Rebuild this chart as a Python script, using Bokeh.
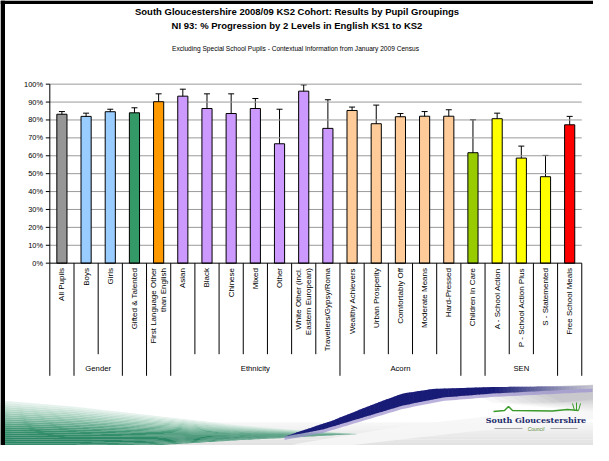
import math
import numpy as np
from bokeh.plotting import figure
from bokeh.models import ColumnDataSource, Range1d, Whisker, TeeHead
from bokeh.core.properties import value
from bokeh.embed import file_html
from bokeh.resources import INLINE

# ---------------- data ----------------
categories = ["All Pupils", "Boys", "Girls", "Gifted & Talented",
              "First Language Other\nthan English", "Asian", "Black", "Chinese",
              "Mixed", "Other", "White Other (incl.\nEastern European)",
              "Travellers/Gypsy/Roma", "Wealthy Achievers", "Urban Prosperity",
              "Comfortably Off", "Moderate Means", "Hard-Pressed", "Children In Care",
              "A - School Action", "P - School Action Plus", "S - Statemented",
              "Free School Meals"]
groups = ["", "Gender", "Gender", "", "", "Ethnicity", "Ethnicity", "Ethnicity",
          "Ethnicity", "Ethnicity", "Ethnicity", "Ethnicity", "Acorn", "Acorn",
          "Acorn", "Acorn", "Acorn", "", "SEN", "SEN", "SEN", ""]
values = [83.2, 82.0, 84.6, 84.0, 90.2, 93.3, 86.4, 83.6, 86.4, 66.7, 96.1, 75.3,
          85.3, 77.9, 81.8, 82.1, 82.1, 61.7, 80.7, 58.7, 48.3, 77.3]
upper = [84.7, 83.8, 86.0, 86.8, 94.6, 97.2, 94.6, 94.6, 92.0, 86.0, 99.6, 91.3,
         87.2, 88.3, 83.6, 84.7, 85.7, 80.1, 83.8, 65.4, 60.2, 82.0]
lower = [81.8, 80.1, 82.9, 80.1, 82.1, 84.4, 70.6, 60.6, 77.9, 39.9, 84.7, 46.4,
         83.1, 62.6, 79.6, 79.6, 78.4, 39.5, 77.3, 52.0, 36.3, 72.1]
colors = ["#969696", "#99CCFF", "#99CCFF", "#339966", "#FF9900", "#CC99FF", "#CC99FF",
          "#CC99FF", "#CC99FF", "#CC99FF", "#CC99FF", "#CC99FF", "#FFCC99", "#FFCC99",
          "#FFCC99", "#FFCC99", "#FFCC99", "#99CC00", "#FFFF00", "#FFFF00", "#FFFF00",
          "#FF0000"]
y_ticks = [0, 10, 20, 30, 40, 50, 60, 70, 80, 90, 100]
y_tick_labels = [f"{t}%" for t in y_ticks]

title1 = "South Gloucestershire 2008/09 KS2 Cohort: Results by Pupil Groupings"
title2 = "NI 93: % Progression by 2 Levels in English KS1 to KS2"
subtitle = "Excluding Special School Pupils - Contextual Information from January 2009 Census"

n = len(categories)
FONT = value("Liberation Sans")

# ---------------- figure ----------------
W, H = 593, 445
p = figure(width=W, height=H, output_backend="svg", toolbar_location=None,
           x_axis_location=None, y_axis_location=None,
           x_range=Range1d(-2.040, 22.485), y_range=Range1d(-101.86, 146.74),
           min_border=0)
p.outline_line_color = None
p.grid.visible = False
p.background_fill_color = "white"
# page-pixel coordinate system for layout / decoration
p.extra_x_ranges = {"px": Range1d(8, 601)}
p.extra_y_ranges = {"px": Range1d(453, 8)}
PX = dict(x_range_name="px", y_range_name="px")


def hexmix(c1, c2, f):
    r = [int(round(a + (b - a) * f)) for a, b in zip(c1, c2)]
    return "#%02x%02x%02x" % tuple(r)


# ---------------- decoration (bottom swoosh) ----------------
# soft grey backdrop bands
for k in range(12):
    f = k / 11
    y0 = 430 + 31 * f
    p.quad(left=[8], right=[601], top=[y0], bottom=[y0 + 3.0], fill_color=hexmix((246, 246, 246), (214, 214, 214), f),
           line_color=None, **PX)
# whiter highlight diagonal
p.patch([300, 420, 609, 609, 470, 330], [452, 432, 412, 426, 440, 456], fill_color="#f6f6f6",
        line_color=None, fill_alpha=0.9, **PX)
# grey area above-right of navy wedge
for k in range(8):
    f = k / 7
    p.patch([470 + 10 * k, 609, 609, 500 + 10 * k], [396, 392, 420 - 2 * k, 410],
            fill_color=hexmix((235, 235, 235), (190, 190, 195), f), line_color=None, fill_alpha=0.35, **PX)

# green swoosh, vertical gradient bands
gxs = np.linspace(8, 365, 120)
top_curve = np.interp(gxs, [8, 80, 160, 240, 300, 345, 365], [408, 414, 423, 432, 437, 440, 441.5])
bot_curve = np.interp(gxs, [8, 80, 160, 240, 300, 345, 365], [457, 456, 453, 448, 445, 442.5, 441.5])
stops = [(0.0, (236, 245, 241)), (0.3, (150, 200, 178)), (0.6, (55, 145, 110)),
         (0.85, (40, 132, 98)), (1.0, (85, 160, 130))]


def stop_color(f):
    for (f0, c0), (f1, c1) in zip(stops[:-1], stops[1:]):
        if f <= f1:
            return hexmix(c0, c1, (f - f0) / (f1 - f0))
    return hexmix(stops[-1][1], stops[-1][1], 0)


NB = 24
for k in range(NB):
    f0, f1 = k / NB, (k + 1) / NB
    ya = top_curve + (bot_curve - top_curve) * f0
    yb = top_curve + (bot_curve - top_curve) * f1
    p.patch(list(gxs) + list(gxs[::-1]), list(ya) + list(yb[::-1]),
            fill_color=stop_color((f0 + f1) / 2), line_color=None, **PX)

# navy wedge with lavender fringe
nx = np.linspace(292, 600, 80)
n_top = np.interp(nx, [292, 340, 380, 410, 440, 500, 560, 600], [444, 428, 412, 401, 396.5, 394.5, 394, 394])
n_bot = np.interp(nx, [292, 330, 370, 410, 450, 500, 560, 600], [444, 437, 425, 413, 405, 401, 398, 396])
p.patch(list(nx) + list(nx[::-1]), list(n_top) + list(n_bot[::-1] + 3.5),
        fill_color="#9d92cf", line_color=None, fill_alpha=0.7, **PX)
for k in range(len(nx) - 1):
    xm = (nx[k] + nx[k + 1]) / 2
    fade = 0.0 if xm < 500 else min(1.0, (xm - 500) / 100)
    c = hexmix((24, 28, 118), (200, 200, 210), fade)
    p.patch([nx[k], nx[k + 1] + 0.6, nx[k + 1] + 0.6, nx[k]],
            [n_top[k], n_top[k + 1], n_bot[k + 1], n_bot[k]],
            fill_color=c, line_color=None, **PX)

# logo
p.line([501, 512, 516, 520, 560, 575, 586], [419, 418, 414, 418, 418.5, 417, 418],
       line_color="#3a9a2a", line_width=1.5, **PX)
p.segment(x0=[582, 584, 586], y0=[418, 418, 418], x1=[580, 584, 588], y1=[411, 410, 411],
          line_color="#3a9a2a", line_width=1, **PX)
p.text(x=[543.5], y=[427], text=["South Gloucestershire"],
       text_font=value("DejaVu Serif"), text_font_style="bold", text_font_size="8px",
       text_color="#1b2a6b", text_align="center", text_baseline="middle", **PX)
p.segment(x0=[502, 558], y0=[436, 436], x1=[530, 585], y1=[436, 436],
          line_color="#8a8a8a", line_width=0.7, **PX)
p.text(x=[543.5], y=[436.5], text=["Council"],
       text_font=FONT, text_font_style="italic", text_font_size="5px",
       text_color="#5a8a3a", text_align="center", text_baseline="middle", **PX)

# slide border
p.quad(left=[8, 8], right=[12.5, 601], bottom=[453, 11.5], top=[8, 8],
       fill_color="black", line_color=None, **PX)

# ---------------- titles ----------------
p.text(x=[304.5, 304.5], y=[18.5, 33], text=[title1, title2],
       text_font=FONT, text_font_style="bold", text_font_size="9.5px", text_color="black",
       text_align="center", text_baseline="middle", **PX)
p.text(x=[303], y=[55.5], text=[subtitle],
       text_font=FONT, text_font_size="6.6px", text_color="black",
       text_align="center", text_baseline="middle", **PX)

# ---------------- chart ----------------
xs = [i + 0.5 for i in range(n)]
src = ColumnDataSource(dict(x=xs, value=values, upper=upper, lower=lower, color=colors,
                            label=categories))

# gridlines
p.segment(x0=[0] * (len(y_ticks) - 1), x1=[n] * (len(y_ticks) - 1), y0=y_ticks[1:], y1=y_ticks[1:],
          line_color="#9a9a9a", line_width=1)

p.vbar(x="x", top="value", bottom=0, width=0.42, source=src, fill_color="color",
       line_color="black", line_width=1)

wk = Whisker(source=src, base="x", upper="upper", lower="lower", line_color="black", line_width=1,
             upper_head=TeeHead(size=6, line_color="black", line_width=1),
             lower_head=TeeHead(size=6, line_color="black", line_width=1))
p.add_layout(wk)

# axis lines
p.segment(x0=[0, 0], y0=[0, 0], x1=[0, n], y1=[100, 0], line_color="black", line_width=1)
# y ticks and labels
p.segment(x0=[53.3] * len(y_ticks), x1=[57.3] * len(y_ticks), y0=y_ticks, y1=y_ticks,
          x_range_name="px", line_color="black", line_width=1)
p.text(x=[50.5] * len(y_ticks), y=y_ticks, text=y_tick_labels, x_range_name="px",
       text_font=FONT, text_font_size="7.4px", text_color="black",
       text_align="right", text_baseline="middle")

# category divider lines (multi-level axis)
bx, by1 = [], []
for k in range(n + 1):
    left_g = groups[k - 1] if k > 0 else ""
    right_g = groups[k] if k < n else ""
    long_line = (k == 0 or k == n or left_g != right_g or left_g == "")
    bx.append(k)
    by1.append(383.3 if long_line else 361.7)
p.segment(x0=bx, x1=bx, y0=[270.67] * len(bx), y1=by1, y_range_name="px",
          line_color="black", line_width=1)

# category labels (rotated)
p.text(x="x", y=275.5, text="label", source=src, y_range_name="px", angle=math.pi / 2,
       text_font=FONT, text_font_size="8px", text_color="black",
       text_align="right", text_baseline="middle", text_line_height=1.1)

# group labels
gnames, gcenters = [], []
i = 0
while i < n:
    j = i
    while j + 1 < n and groups[j + 1] == groups[i]:
        j += 1
    if groups[i]:
        gnames.append(groups[i])
        gcenters.append((i + j + 1) / 2)
    i = j + 1
p.text(x=gcenters, y=[376] * len(gcenters), text=gnames, y_range_name="px",
       text_font=FONT, text_font_size="7.7px", text_color="black",
       text_align="center", text_baseline="middle")

open("out.html", "w").write(file_html(p, INLINE))
